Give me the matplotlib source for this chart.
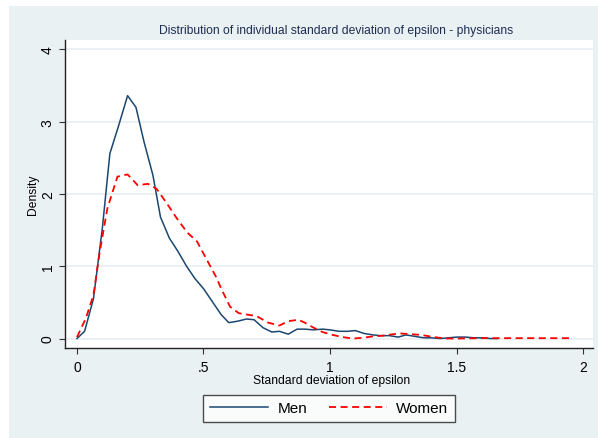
import matplotlib.pyplot as plt
from matplotlib.patches import Rectangle

plt.rcParams['font.family'] = ['Liberation Sans', 'DejaVu Sans']

# kernel density estimates
men_x = [0, 0.03, 0.065, 0.10, 0.13, 0.165, 0.2, 0.233, 0.265, 0.30, 0.33, 0.365,
         0.40, 0.433, 0.466, 0.5, 0.535, 0.57, 0.60, 0.635, 0.67, 0.70, 0.735, 0.77,
         0.80, 0.835, 0.87, 0.90, 0.935, 0.97, 1.0, 1.035, 1.07, 1.10, 1.135, 1.17,
         1.2, 1.235, 1.27, 1.30, 1.335, 1.37, 1.40, 1.435, 1.47, 1.50, 1.535, 1.57,
         1.60, 1.635, 1.66]
men_y = [0, 0.10, 0.55, 1.52, 2.56, 2.95, 3.36, 3.2, 2.72, 2.26, 1.68, 1.39,
         1.2, 1.0, 0.83, 0.69, 0.51, 0.33, 0.22, 0.24, 0.27, 0.26, 0.15, 0.09,
         0.10, 0.06, 0.13, 0.13, 0.12, 0.13, 0.12, 0.10, 0.10, 0.11, 0.07, 0.05,
         0.04, 0.04, 0.02, 0.05, 0.03, 0.01, 0.01, 0.0, 0.01, 0.02, 0.02, 0.01,
         0.01, 0.0, 0.0]

women_x = [0, 0.035, 0.065, 0.09, 0.12, 0.16, 0.2, 0.24, 0.28, 0.315, 0.355, 0.395,
           0.435, 0.475, 0.51, 0.55, 0.57, 0.605, 0.64, 0.675, 0.71, 0.755, 0.80,
           0.835, 0.875, 0.90, 0.935, 0.97, 1.01, 1.05, 1.09, 1.13, 1.17, 1.21,
           1.25, 1.28, 1.32, 1.36, 1.41, 1.46, 1.5, 1.6, 1.7, 1.8, 1.9, 1.95]
women_y = [0.02, 0.28, 0.6, 1.2, 1.8, 2.24, 2.27, 2.12, 2.14, 2.07, 1.87, 1.66,
           1.47, 1.34, 1.11, 0.85, 0.69, 0.44, 0.35, 0.33, 0.31, 0.22, 0.18,
           0.24, 0.26, 0.22, 0.15, 0.09, 0.05, 0.02, 0.0, 0.01, 0.03, 0.04,
           0.06, 0.07, 0.06, 0.05, 0.02, 0.0, 0.0, 0.005, 0.005, 0.005, 0.005, 0.005]

xticks = [0, 0.5, 1, 1.5, 2]
xticklabels = ['0', '.5', '1', '1.5', '2']
yticks = [0, 1, 2, 3, 4]

bg = '#E9F1F3'
W, H = 598, 439

fig = plt.figure(figsize=(W / 100, H / 100), dpi=100, facecolor='white')
fig.patches.append(Rectangle((9 / W, 0), 1 - 9 / W, 1 - 7 / H, transform=fig.transFigure,
                             facecolor=bg, edgecolor='none', zorder=-10))

ax = fig.add_axes([65 / W, 1 - 349 / H, (593 - 65) / W, (349 - 41) / H])
ax.set_facecolor('white')

ax.plot(men_x, men_y, color='#1A476F', lw=1.1, label='Men')
ax.plot(women_x, women_y, color='#FF0000', lw=1.3, linestyle=(0, (3.9, 2.5)), label='Women')

ax.set_xlim(-0.0474, 2.0395)
ax.set_ylim(-0.131, 4.13)
ax.set_xticks(xticks)
ax.set_xticklabels(xticklabels)
ax.set_yticks(yticks)
ax.set_yticklabels([str(v) for v in yticks], rotation=90, va='center')
ax.tick_params(axis='both', direction='out', length=4.3, width=0.8, labelsize=10, color='#333333')
ax.tick_params(axis='x', pad=4)
ax.tick_params(axis='y', pad=3)
ax.yaxis.grid(True, color='#E6EEF1', lw=1.2)
ax.set_axisbelow(True)
for s in ['top', 'right']:
    ax.spines[s].set_visible(False)
for s in ['left', 'bottom']:
    ax.spines[s].set_color('#222222')
    ax.spines[s].set_linewidth(1.0)

fig.text(336 / W, 1 - 31 / H, 'Distribution of individual standard deviation of epsilon - physicians',
         ha='center', va='center', fontsize=8.7, color='#1E2D53')
fig.text(332 / W, 1 - 381 / H, 'Standard deviation of epsilon', ha='center', va='center', fontsize=8.7)
fig.text(33 / W, 1 - 195 / H, 'Density', ha='center', va='center', fontsize=8.7, rotation=90)

leg = fig.legend(loc='center', bbox_to_anchor=(329 / W, 1 - 409.5 / H), ncol=2, fontsize=11,
                 frameon=True, fancybox=False, handlelength=3.8, handletextpad=0.6,
                 columnspacing=1.4, borderpad=0.45, borderaxespad=0)
leg.get_frame().set_edgecolor('#222222')
leg.get_frame().set_linewidth(1.0)
leg.get_frame().set_facecolor('white')

fig.savefig('out.png', dpi=100, facecolor=fig.get_facecolor())
